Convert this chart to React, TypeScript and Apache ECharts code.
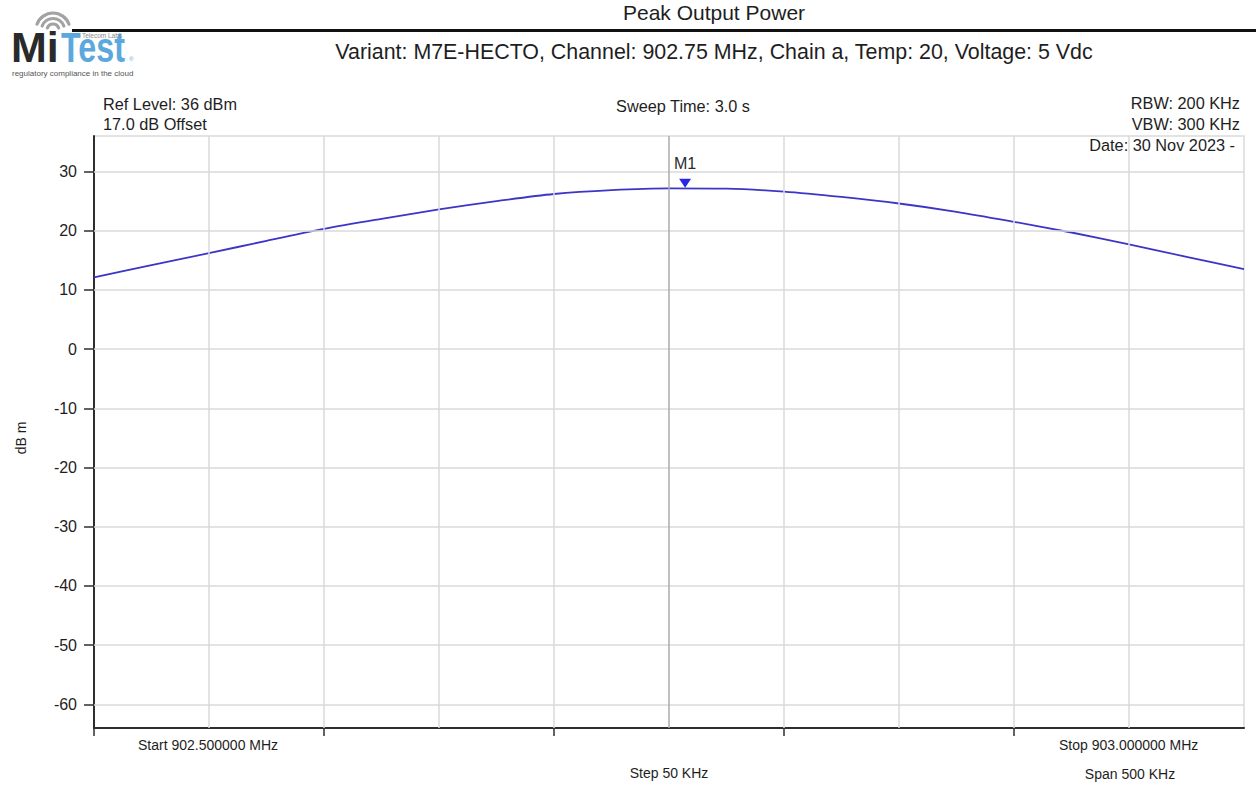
import React, { useEffect, useRef } from "react";
import * as echarts from "echarts";

// Swept spectrum trace: frequency (MHz) vs measured level (dBm)
const freqMHz = [
  902.5, 902.525, 902.55, 902.575, 902.6, 902.625, 902.65, 902.675, 902.7, 902.725, 902.75,
  902.775, 902.8, 902.825, 902.85, 902.875, 902.9, 902.925, 902.95, 902.975, 903.0,
];
const levelDbm = [
  12.1, 14.2, 16.2, 18.3, 20.3, 22.0, 23.6, 25.0, 26.2, 26.85, 27.15,
  27.1, 26.6, 25.7, 24.6, 23.2, 21.5, 19.7, 17.7, 15.6, 13.5,
];

// Marker M1 (peak)
const markerName = "M1";
const markerFreqMHz = 902.757;
const markerLevelDbm = 27.16;

// Axis ranges and graticule
const startFreqMHz = 902.5;
const stopFreqMHz = 903.0;
const centerFreqMHz = 902.75;
const refLevelDbm = 36;
const bottomLevelDbm = -64;
const yTickValues = [-60, -50, -40, -30, -20, -10, 0, 10, 20, 30];
const xGridValues = [902.55, 902.6, 902.65, 902.7, 902.8, 902.85, 902.9, 902.95];
const xTickValues = [902.5, 902.6, 902.7, 902.8, 902.9];

// Header / annotation texts
const titleText = "Peak Output Power";
const subtitleText = "Variant: M7E-HECTO, Channel: 902.75 MHz, Chain a, Temp: 20, Voltage: 5 Vdc";
const leftInfo = ["Ref Level: 36 dBm", "17.0 dB Offset"];
const centerInfo = "Sweep Time: 3.0 s";
const rightInfo = ["RBW: 200 KHz", "VBW: 300 KHz", "Date: 30 Nov 2023 -"];
const startLabel = "Start 902.500000 MHz";
const stopLabel = "Stop 903.000000 MHz";
const stepLabel = "Step 50 KHz";
const spanLabel = "Span 500 KHz";
const yAxisName = "dB m";

const FONT = "'Liberation Sans', Arial, Helvetica, sans-serif";
const TEXT_COLOR = "#1e1e1e";

function txt(
  x: number,
  y: number,
  text: string,
  size: number,
  align: "left" | "center" | "right" = "left",
  extra: Record<string, unknown> = {},
  styleExtra: Record<string, unknown> = {}
) {
  return {
    type: "text",
    x,
    y,
    silent: true,
    ...extra,
    style: {
      text,
      fill: TEXT_COLOR,
      font: `${size}px ${FONT}`,
      align,
      textAlign: align,
      verticalAlign: "middle",
      textVerticalAlign: "middle",
      ...styleExtra,
    },
  };
}

export default function App() {
  const ref = useRef<HTMLDivElement>(null);

  useEffect(() => {
    if (!ref.current) return;
    const chart = echarts.init(ref.current, undefined, { renderer: "svg" });

    const arcStyle = { stroke: "#a3a3a3", lineWidth: 3.2, fill: "none", lineCap: "round" };
    const wifiArcs = [6, 11.5, 17].map((r) => ({
      type: "arc",
      silent: true,
      shape: { cx: 53, cy: 30, r, startAngle: (200 * Math.PI) / 180, endAngle: (340 * Math.PI) / 180, clockwise: true },
      style: arcStyle,
    }));

    const option = {
      animation: false,
      backgroundColor: "#ffffff",
      grid: {
        left: 94,
        top: 136,
        width: 1150,
        height: 592,
        show: true,
        borderColor: "#dadada",
        borderWidth: 1.5,
        backgroundColor: "transparent",
      },
      xAxis: {
        type: "value",
        min: startFreqMHz,
        max: stopFreqMHz,
        axisLine: { show: true, onZero: false, lineStyle: { color: "#2e2e2e", width: 2 } },
        axisTick: { show: true, customValues: xTickValues, length: 8, lineStyle: { color: "#2e2e2e", width: 1.5 } },
        axisLabel: { show: false },
        splitLine: { show: false },
      },
      yAxis: {
        type: "value",
        min: bottomLevelDbm,
        max: refLevelDbm,
        axisLine: { show: true, onZero: false, lineStyle: { color: "#2e2e2e", width: 2 } },
        axisTick: { show: true, customValues: yTickValues, length: 10, lineStyle: { color: "#2e2e2e", width: 1.5 } },
        axisLabel: {
          show: true,
          customValues: yTickValues,
          color: TEXT_COLOR,
          fontSize: 16,
          fontFamily: FONT,
          margin: 17,
        },
        splitLine: { show: false },
      },
      series: [
        {
          // graticule lines, drawn under the trace
          type: "line",
          z: 1,
          silent: true,
          showSymbol: false,
          data: freqMHz.map((f, i) => [f, levelDbm[i]]),
          lineStyle: { width: 0, opacity: 0 },
          markLine: {
            silent: true,
            animation: false,
            symbol: ["none", "none"],
            label: { show: false },
            lineStyle: { color: "#dadada", width: 1.5, type: "solid" },
            data: [
              ...yTickValues.map((v) => ({ yAxis: v })),
              ...xGridValues.map((v) => ({ xAxis: v })),
              { xAxis: centerFreqMHz, lineStyle: { color: "#ababab", width: 1.5, type: "solid" } },
            ],
          },
        },
        {
          type: "line",
          z: 3,
          silent: true,
          showSymbol: false,
          smooth: 0.3,
          data: freqMHz.map((f, i) => [f, levelDbm[i]]),
          lineStyle: { color: "#3b36c6", width: 1.8 },
          markPoint: {
            silent: true,
            animation: false,
            symbol: "path://M0,0L12,0L6,9Z",
            symbolSize: [12, 9],
            symbolOffset: [0, -5],
            itemStyle: { color: "#2828e2" },
            label: {
              show: true,
              position: "top",
              distance: 7,
              formatter: markerName,
              color: "#2b2b2b",
              fontSize: 16,
              fontFamily: FONT,
            },
            data: [{ coord: [markerFreqMHz, markerLevelDbm] }],
          },
        },
      ],
      graphic: [
        // logo
        ...wifiArcs,
        txt(11, 47, "Mi", 43, "left", {}, { font: `bold 43px ${FONT}`, fill: "#2a2a2a", lineHeight: 32 }),
        txt(61, 47, "Test", 43, "left", { scaleX: 0.75 }, { font: `bold 43px ${FONT}`, fill: "#5aa8de", lineHeight: 32 }),
        txt(129, 59, "®", 6, "left", {}, { fill: "#5aa8de" }),
        txt(82, 35, "Telecom Labs", 6.5, "left", {}, { fill: "#8a8a8a" }),
        txt(12, 73.5, "regulatory compliance in the cloud", 8, "left", {}, { fill: "#555555" }),
        // header rule
        { type: "rect", silent: true, shape: { x: 72, y: 29, width: 1184, height: 3 }, style: { fill: "#111111" } },
        // titles
        txt(714, 12, titleText, 21, "center"),
        txt(714, 52, subtitleText, 21.4, "center"),
        // instrument settings
        txt(103, 104, leftInfo[0], 16.3),
        txt(103, 124, leftInfo[1], 16.3),
        txt(683, 106, centerInfo, 16.3, "center"),
        txt(1240, 103, rightInfo[0], 16.3, "right"),
        txt(1240, 124, rightInfo[1], 16.3, "right"),
        txt(1235, 145, rightInfo[2], 16.3, "right"),
        // y axis name
        txt(21, 438, yAxisName, 14, "center", { rotation: Math.PI / 2 }),
        // frequency footer
        txt(138, 745, startLabel, 14),
        txt(1059, 745, stopLabel, 14),
        txt(669, 773, stepLabel, 14, "center"),
        txt(1130, 774, spanLabel, 14, "center"),
      ],
    };

    chart.setOption(option as any);
    return () => chart.dispose();
  }, []);

  return (
    <div
      ref={ref}
      style={{ position: "fixed", left: 0, top: 0, width: 1256, height: 786, background: "#fff" }}
    />
  );
}
